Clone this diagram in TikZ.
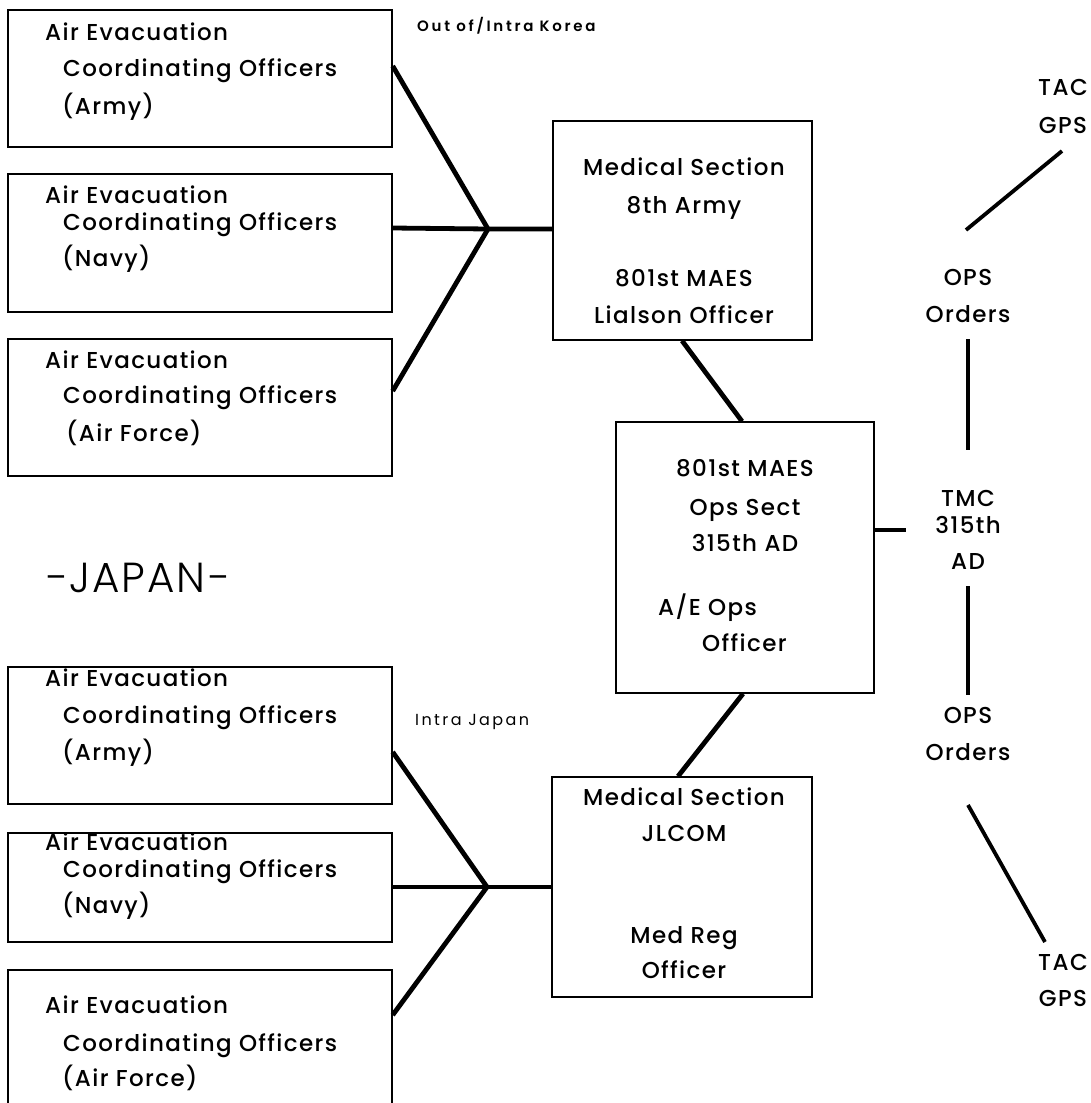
\documentclass[tikz,border=0pt]{standalone}
\usepackage{fontspec}
\setmainfont{Poppins Medium}[LetterSpace=6]
\newfontfamily\lightfont{Poppins Light}[LetterSpace=5]
\newfontfamily\boldsmall{Poppins SemiBold}[LetterSpace=18]
\newfontfamily\regsmall{Poppins}[LetterSpace=15]
\begin{document}
\begin{tikzpicture}[x=1pt,y=-1pt,
  box/.style={draw,line width=1.4pt,rectangle,inner sep=0pt},
  conn/.style={line width=4.8pt,line cap=butt},
  txt/.style={font=\fontsize{23}{26}\selectfont,inner sep=0pt,anchor=base west},
  ctxt/.style={font=\fontsize{23}{26}\selectfont,inner sep=0pt,anchor=base},
  small/.style={inner sep=0pt,anchor=base west}]
\useasboundingbox[fill=white] (0,0) rectangle (1091,1103);
% ---------- upper left boxes
\node[box,minimum width=384pt,minimum height=137pt] (a1) at (200,78.5) {};
\node[box,minimum width=384pt,minimum height=138pt] (a2) at (200,243) {};
\node[box,minimum width=384pt,minimum height=137pt] (a3) at (200,407.5) {};
\node[txt] (a1l1) at (45,40) {Air Evacuation};
\node[txt] (a1l2) at (63,76) {Coordinating Officers};
\node[txt] (a1l3) at (62,114) {(Army)};
\node[txt] (a2l1) at (45,203) {Air Evacuation};
\node[txt] (a2l2) at (63,230) {Coordinating Officers};
\node[txt] (a2l3) at (62,266) {(Navy)};
\node[txt] (a3l1) at (45,368) {Air Evacuation};
\node[txt] (a3l2) at (63,403) {Coordinating Officers};
\node[txt] (a3l3) at (66,441) {(Air Force)};
\node[small,font=\fontsize{15}{17}\boldsmall] (korea) at (417,31) {Out of/Intra Korea};
\node[font=\fontsize{42}{46}\lightfont,inner sep=0pt,anchor=base west] (japan) at (45,592) {{\char"2212}JAPAN{\char"2212}};
% ---------- lower left boxes
\node[box,minimum width=384pt,minimum height=137pt] (b1) at (200,735.5) {};
\node[box,minimum width=384pt,minimum height=109pt] (b2) at (200,887.5) {};
\node[box,minimum width=384pt,minimum height=140pt] (b3) at (200,1040) {};
\node[txt] (b1l1) at (45,686) {Air Evacuation};
\node[txt] (b1l2) at (63,723) {Coordinating Officers};
\node[txt] (b1l3) at (62,760) {(Army)};
\node[txt] (b2l1) at (45,850) {Air Evacuation};
\node[txt] (b2l2) at (63,877) {Coordinating Officers};
\node[txt] (b2l3) at (62,913) {(Navy)};
\node[txt] (b3l1) at (45,1013) {Air Evacuation};
\node[txt] (b3l2) at (63,1051) {Coordinating Officers};
\node[txt] (b3l3) at (62,1086) {(Air Force)};
\node[small,font=\fontsize{16}{18}\regsmall] (japan2) at (415,725) {Intra Japan};
% ---------- centre boxes
\node[box,minimum width=259pt,minimum height=219pt] (m8) at (682.5,230.5) {};
\node[ctxt] (m8l1) at (684,175) {Medical Section};
\node[ctxt] (m8l2) at (684,213) {8th Army};
\node[ctxt] (m8l3) at (684,286) {801st MAES};
\node[ctxt] (m8l4) at (684,323) {Lialson Officer};
\node[box,minimum width=258pt,minimum height=271pt] (ops) at (745,557.5) {};
\node[ctxt] (opsl1) at (745,476) {801st MAES};
\node[ctxt] (opsl2) at (745,515) {Ops Sect};
\node[ctxt] (opsl3) at (745,551) {315th AD};
\node[txt] (opsl4) at (658,615) {A/E Ops};
\node[txt] (opsl5) at (702,651) {Officer};
\node[box,minimum width=260pt,minimum height=220pt] (jl) at (682,887) {};
\node[ctxt] (jll1) at (684,805) {Medical Section};
\node[ctxt] (jll2) at (684,841) {JLCOM};
\node[ctxt] (jll3) at (684,943) {Med Reg};
\node[ctxt] (jll4) at (684,978) {Officer};
% ---------- right column labels
\node[ctxt] (tmc1) at (968,506) {TMC};
\node[ctxt] (tmc2) at (968,533) {315th};
\node[ctxt] (tmc3) at (968,569) {AD};
\node[ctxt] (opsu1) at (968,285) {OPS};
\node[ctxt] (opsu2) at (968,322) {Orders};
\node[ctxt] (opsd1) at (968,723) {OPS};
\node[ctxt] (opsd2) at (968,760) {Orders};
\node[ctxt] (tacu1) at (1063,95) {TAC};
\node[ctxt] (tacu2) at (1063,133) {GPS};
\node[ctxt] (tacd1) at (1063,970) {TAC};
\node[ctxt] (tacd2) at (1063,1006) {GPS};
% ---------- connectors
\coordinate (j1) at (488,229);
\coordinate (j2) at (487,887);
\draw[conn] ([yshift=12.5pt]a1.east) -- (j1);
\draw[conn] ([yshift=15pt]a2.east) -- (j1) -- (j1 -| m8.west);
\draw[conn] ([yshift=16.5pt]a3.east) -- (j1);
\draw[conn] ([yshift=-16.5pt]b1.east) -- (j2);
\draw[conn] ([yshift=0.5pt]b2.east) -- (j2) -- (j2 -| jl.west);
\draw[conn] ([yshift=25pt]b3.east) -- (j2);
\draw[conn] ([xshift=-0.5pt]m8.south) -- ([xshift=-3pt]ops.north);
\draw[conn] ([xshift=-2pt]ops.south) -- ([xshift=-4pt]jl.north);
\coordinate (tmcw) at (906,530);
\draw[conn] (ops.east |- tmcw) -- (tmcw);
\coordinate (vu1) at (968,339);
\coordinate (vu2) at (968,450);
\coordinate (vd1) at (968,586);
\coordinate (vd2) at (968,695);
\draw[conn] (vu1) -- (vu2);
\draw[conn] (vd1) -- (vd2);
\coordinate (du1) at (966,230);
\coordinate (du2) at (1062,151);
\coordinate (dd1) at (968,805);
\coordinate (dd2) at (1045,942);
\draw[conn,line width=3.8pt] (du1) -- (du2);
\draw[conn,line width=3.8pt] (dd1) -- (dd2);
\end{tikzpicture}
\end{document}
